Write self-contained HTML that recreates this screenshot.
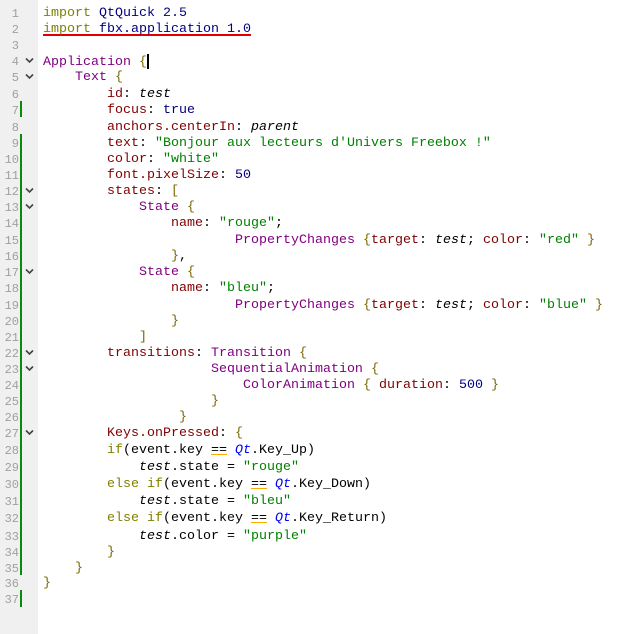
<!DOCTYPE html>
<html><head><meta charset="utf-8"><style>
html,body{margin:0;padding:0;background:#fff;width:632px;height:634px;overflow:hidden}
#g{position:absolute;left:0;top:0;width:38px;height:634px;background:#f0f0f0}
.n{position:absolute;left:0;width:19px;text-align:right;font:12px "Liberation Mono",monospace;color:#a0a0a0;height:16px;line-height:16px;margin-top:2px}
.bar{position:absolute;left:20px;width:2px;background:#0a8a0a}
.l{position:absolute;left:43px;height:16px;line-height:16px;font:13.33px "Liberation Mono",monospace;white-space:pre;color:#000;margin-top:2px}
.k{color:#808000}.t{color:#800080}.p{color:#800000}.s{color:#008000}.nv{color:#000080}
.i{font-style:italic}.q{color:#0000ff;font-style:italic}.b{color:#7a6a00}
.u{text-decoration:underline;text-decoration-color:#ffaa00;text-decoration-skip-ink:none}
.r{text-decoration:underline;text-decoration-color:#e00000;text-decoration-thickness:2px;text-underline-offset:2px;text-decoration-skip-ink:none}
</style></head><body>
<div id="g"></div>
<div class="bar" style="top:101px;height:16px"></div>
<div class="bar" style="top:134px;height:441px"></div>
<div class="bar" style="top:590px;height:17px"></div>
<div class="n" style="top:4px">1</div>
<div class="n" style="top:20px">2</div>
<div class="n" style="top:36px">3</div>
<div class="n" style="top:52px">4</div>
<div class="n" style="top:68px">5</div>
<div class="n" style="top:85px">6</div>
<div class="n" style="top:101px">7</div>
<div class="n" style="top:118px">8</div>
<div class="n" style="top:134px">9</div>
<div class="n" style="top:150px">10</div>
<div class="n" style="top:166px">11</div>
<div class="n" style="top:182px">12</div>
<div class="n" style="top:198px">13</div>
<div class="n" style="top:214px">14</div>
<div class="n" style="top:231px">15</div>
<div class="n" style="top:247px">16</div>
<div class="n" style="top:263px">17</div>
<div class="n" style="top:279px">18</div>
<div class="n" style="top:296px">19</div>
<div class="n" style="top:312px">20</div>
<div class="n" style="top:328px">21</div>
<div class="n" style="top:344px">22</div>
<div class="n" style="top:360px">23</div>
<div class="n" style="top:376px">24</div>
<div class="n" style="top:392px">25</div>
<div class="n" style="top:408px">26</div>
<div class="n" style="top:424px">27</div>
<div class="n" style="top:441px">28</div>
<div class="n" style="top:458px">29</div>
<div class="n" style="top:475px">30</div>
<div class="n" style="top:492px">31</div>
<div class="n" style="top:509px">32</div>
<div class="n" style="top:527px">33</div>
<div class="n" style="top:543px">34</div>
<div class="n" style="top:559px">35</div>
<div class="n" style="top:574px">36</div>
<div class="n" style="top:590px">37</div>
<svg style="position:absolute;left:0;top:0" width="38" height="634">
<g fill="none" stroke="#444" stroke-width="1.6">
<path d="M26 58.5l3.5 3.5 3.5-3.5"/><path d="M26 74.5l3.5 3.5 3.5-3.5"/>
<path d="M26 188.5l3.5 3.5 3.5-3.5"/><path d="M26 204.5l3.5 3.5 3.5-3.5"/>
<path d="M26 269.5l3.5 3.5 3.5-3.5"/><path d="M26 350.5l3.5 3.5 3.5-3.5"/>
<path d="M26 366.5l3.5 3.5 3.5-3.5"/><path d="M26 430.5l3.5 3.5 3.5-3.5"/>
</g></svg>
<div class="l" style="top:4px"><span class="k">import</span> <span class="nv">QtQuick 2.5</span></div>
<div class="l" style="top:20px"><span class="r"><span class="k">import</span> <span class="nv">fbx.application 1.0</span></span></div>
<div class="l" style="top:52px"><span class="t">Application</span> <span class="b">{</span><span style="display:inline-block;width:2px;height:15px;background:#000;vertical-align:middle"></span></div>
<div class="l" style="top:68px">    <span class="t">Text</span> <span class="b">{</span></div>
<div class="l" style="top:85px">        <span class="p">id</span>: <span class="i">test</span></div>
<div class="l" style="top:101px">        <span class="p">focus</span>: <span class="nv">true</span></div>
<div class="l" style="top:118px">        <span class="p">anchors.centerIn</span>: <span class="i">parent</span></div>
<div class="l" style="top:134px">        <span class="p">text</span>: <span class="s">"Bonjour aux lecteurs d'Univers Freebox !"</span></div>
<div class="l" style="top:150px">        <span class="p">color</span>: <span class="s">"white"</span></div>
<div class="l" style="top:166px">        <span class="p">font.pixelSize</span>: <span class="nv">50</span></div>
<div class="l" style="top:182px">        <span class="p">states</span>: <span class="b">[</span></div>
<div class="l" style="top:198px">            <span class="t">State</span> <span class="b">{</span></div>
<div class="l" style="top:214px">                <span class="p">name</span>: <span class="s">"rouge"</span>;</div>
<div class="l" style="top:231px">                        <span class="t">PropertyChanges</span> <span class="b">{</span><span class="p">target</span>: <span class="i">test</span>; <span class="p">color</span>: <span class="s">"red"</span> <span class="b">}</span></div>
<div class="l" style="top:247px">                <span class="b">}</span>,</div>
<div class="l" style="top:263px">            <span class="t">State</span> <span class="b">{</span></div>
<div class="l" style="top:279px">                <span class="p">name</span>: <span class="s">"bleu"</span>;</div>
<div class="l" style="top:296px">                        <span class="t">PropertyChanges</span> <span class="b">{</span><span class="p">target</span>: <span class="i">test</span>; <span class="p">color</span>: <span class="s">"blue"</span> <span class="b">}</span></div>
<div class="l" style="top:312px">                <span class="b">}</span></div>
<div class="l" style="top:328px">            <span class="b">]</span></div>
<div class="l" style="top:344px">        <span class="p">transitions</span>: <span class="t">Transition</span> <span class="b">{</span></div>
<div class="l" style="top:360px">                     <span class="t">SequentialAnimation</span> <span class="b">{</span></div>
<div class="l" style="top:376px">                         <span class="t">ColorAnimation</span> <span class="b">{</span> <span class="p">duration</span>: <span class="nv">500</span> <span class="b">}</span></div>
<div class="l" style="top:392px">                     <span class="b">}</span></div>
<div class="l" style="top:408px">                 <span class="b">}</span></div>
<div class="l" style="top:424px">        <span class="p">Keys.onPressed</span>: <span class="b">{</span></div>
<div class="l" style="top:441px">        <span class="k">if</span>(event.key <span class="u">==</span> <span class="q">Qt</span>.Key_Up)</div>
<div class="l" style="top:458px">            <span class="i">test</span>.state = <span class="s">"rouge"</span></div>
<div class="l" style="top:475px">        <span class="k">else if</span>(event.key <span class="u">==</span> <span class="q">Qt</span>.Key_Down)</div>
<div class="l" style="top:492px">            <span class="i">test</span>.state = <span class="s">"bleu"</span></div>
<div class="l" style="top:509px">        <span class="k">else if</span>(event.key <span class="u">==</span> <span class="q">Qt</span>.Key_Return)</div>
<div class="l" style="top:527px">            <span class="i">test</span>.color = <span class="s">"purple"</span></div>
<div class="l" style="top:543px">        <span class="b">}</span></div>
<div class="l" style="top:559px">    <span class="b">}</span></div>
<div class="l" style="top:574px"><span class="b">}</span></div>
</body></html>
